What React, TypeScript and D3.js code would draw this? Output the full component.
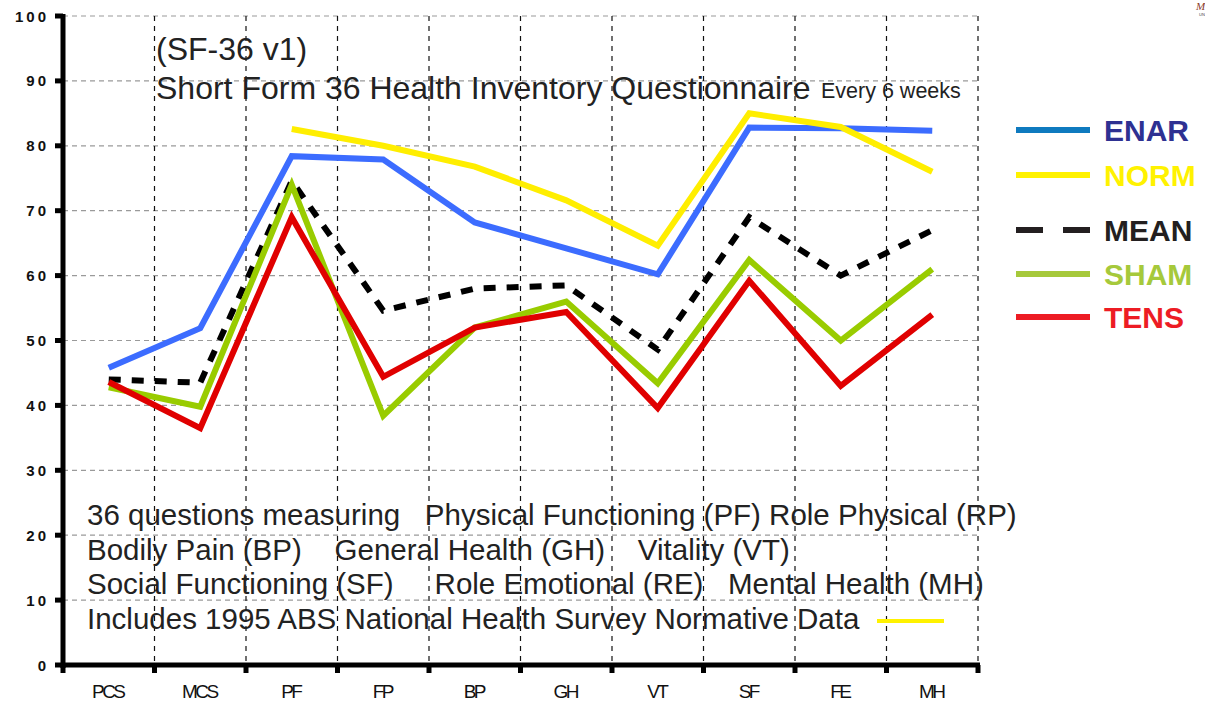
import React, { useEffect, useRef } from "react";
import * as d3 from "d3";

// categories along the x axis (labels as printed in the chart)
const categories = ["PCS", "MCS", "PF", "FP", "BP", "GH", "VT", "SF", "FE", "MH"];
const yTicks = [0, 10, 20, 30, 40, 50, 60, 70, 80, 90, 100];

// series values (null = no point)
const enar = [45.8, 51.9, 78.4, 77.9, 68.2, 64.2, 60.2, 82.8, 82.7, 82.3];
const norm = [null, null, 82.6, 80.0, 76.8, 71.6, 64.6, 85.0, 82.9, 76.0];
const mean = [44.0, 43.5, 74.6, 54.6, 58.0, 58.5, 48.6, 69.0, 60.0, 67.0];
const sham = [42.8, 39.8, 74.0, 38.4, 52.0, 56.0, 43.4, 62.4, 50.0, 61.0];
const tens = [43.6, 36.5, 69.0, 44.4, 52.0, 54.4, 39.6, 59.2, 43.0, 54.0];

const series = [
  { name: "ENAR", values: enar, color: "#3c6cff", dash: null },
  { name: "NORM", values: norm, color: "#ffee00", dash: null },
  { name: "MEAN", values: mean, color: "#000000", dash: "12,11" },
  { name: "SHAM", values: sham, color: "#99cc00", dash: null },
  { name: "TENS", values: tens, color: "#e00000", dash: null },
];

const legend = [
  { name: "ENAR", line: "#0f7abf", text: "#2e3192", dash: null },
  { name: "NORM", line: "#fff200", text: "#fff200", dash: null },
  { name: "MEAN", line: "#231f20", text: "#231f20", dash: "27,20" },
  { name: "SHAM", line: "#a6c93b", text: "#a6c93b", dash: null },
  { name: "TENS", line: "#ed1c24", text: "#ed1c24", dash: null },
];

const notes = [
  "36 questions measuring   Physical Functioning (PF) Role Physical (RP)",
  "Bodily Pain (BP)    General Health (GH)    Vitality (VT)",
  "Social Functioning (SF)     Role Emotional (RE)   Mental Health (MH)",
  "Includes 1995 ABS National Health Survey Normative Data",
];

const W = 1205, H = 701;
const left = 63, right = 978, top = 16, bottom = 665;
const FONT = "'Liberation Sans', Arial, sans-serif";

export default function App() {
  const ref = useRef<SVGSVGElement>(null);

  useEffect(() => {
    const svg = d3.select(ref.current);
    svg.selectAll("*").remove();

    const x = d3.scaleBand().domain(categories).range([left, right]).padding(0);
    const y = d3.scaleLinear().domain([0, 100]).range([bottom, top]);
    const cx = (c: string) => (x(c) as number) + x.bandwidth() / 2;

    // horizontal grid
    svg.append("g").selectAll("line").data(yTicks.filter(t => t > 0)).enter().append("line")
      .attr("x1", left).attr("x2", right)
      .attr("y1", d => y(d)).attr("y2", d => y(d))
      .attr("stroke", "#9a9a9a").attr("stroke-width", 1.2).attr("stroke-dasharray", "5,4");

    // vertical grid at band boundaries
    svg.append("g").selectAll("line").data(categories).enter().append("line")
      .attr("x1", d => (x(d) as number) + x.bandwidth()).attr("x2", d => (x(d) as number) + x.bandwidth())
      .attr("y1", top).attr("y2", bottom)
      .attr("stroke", "#111").attr("stroke-width", 1.2).attr("stroke-dasharray", "5,5");

    // titles
    const t = svg.append("g").attr("font-family", FONT).attr("fill", "#222");
    t.append("text").attr("x", 156).attr("y", 60).attr("font-size", 32).text("(SF-36 v1)");
    t.append("text").attr("x", 156).attr("y", 99).attr("font-size", 32)
      .text("Short Form 36 Health Inventory Questionnaire");
    t.append("text").attr("x", 821).attr("y", 98).attr("font-size", 21.5).text("Every 6 weeks");

    notes.forEach((n, i) => {
      t.append("text").attr("x", 87).attr("y", 525 + i * 34.6).attr("font-size", 29.5)
        .attr("xml:space", "preserve").style("white-space", "pre").text(n);
    });
    svg.append("line").attr("x1", 877).attr("x2", 944).attr("y1", 621).attr("y2", 621)
      .attr("stroke", "#fff200").attr("stroke-width", 4);

    // data lines
    series.forEach(s => {
      const pts = categories.map((c, i) => ({ c, v: s.values[i] }));
      const line = d3.line<{ c: string; v: number | null }>()
        .defined(d => d.v !== null)
        .x(d => cx(d.c))
        .y(d => y(d.v as number));
      svg.append("path").datum(pts).attr("d", line)
        .attr("fill", "none").attr("stroke", s.color).attr("stroke-width", 6)
        .attr("stroke-linejoin", "miter")
        .attr("stroke-dasharray", s.dash);
    });

    // y axis
    svg.append("line").attr("x1", left).attr("x2", left).attr("y1", top - 2).attr("y2", bottom + 3)
      .attr("stroke", "#000").attr("stroke-width", 5);
    const yg = svg.append("g");
    yg.selectAll("line").data(yTicks).enter().append("line")
      .attr("x1", left - 8).attr("x2", left).attr("y1", d => y(d)).attr("y2", d => y(d))
      .attr("stroke", "#000").attr("stroke-width", 5);
    yg.selectAll("text").data(yTicks).enter().append("text")
      .attr("x", left - 14).attr("y", d => y(d) + 5.5)
      .attr("text-anchor", "end").attr("font-family", FONT).attr("font-weight", "bold")
      .attr("font-size", 15).attr("letter-spacing", 3).attr("fill", "#111")
      .text(d => String(d));

    // x axis
    svg.append("line").attr("x1", left - 2).attr("x2", right + 2).attr("y1", bottom).attr("y2", bottom)
      .attr("stroke", "#000").attr("stroke-width", 5);
    const xg = svg.append("g");
    xg.selectAll("line").data([left, ...categories.map(c => (x(c) as number) + x.bandwidth())]).enter().append("line")
      .attr("x1", d => d).attr("x2", d => d).attr("y1", bottom).attr("y2", bottom + 8)
      .attr("stroke", "#000").attr("stroke-width", 5);
    xg.selectAll("text").data(categories).enter().append("text")
      .attr("x", d => cx(d) - 1).attr("y", 698).attr("text-anchor", "middle")
      .attr("font-family", FONT)
      .attr("font-size", 19).attr("letter-spacing", -2.6).attr("fill", "#111")
      .text(d => d);

    // legend
    const lg = svg.append("g");
    legend.forEach((l, i) => {
      const ly = [130, 175, 230, 274, 317][i];
      lg.append("line").attr("x1", 1016).attr("x2", 1090).attr("y1", ly).attr("y2", ly)
        .attr("stroke", l.line).attr("stroke-width", 6).attr("stroke-dasharray", l.dash);
      lg.append("text").attr("x", 1104).attr("y", ly + 11).attr("font-family", FONT)
        .attr("font-weight", "bold").attr("font-size", 30).attr("fill", l.text).text(l.name);
    });

    // logo fragment in the corner
    svg.append("text").attr("x", 1196).attr("y", 10).attr("font-family", "serif").attr("font-style", "italic")
      .attr("font-size", 11).attr("fill", "#8b3a2a").text("M");
    svg.append("text").attr("x", 1199).attr("y", 16).attr("font-family", FONT)
      .attr("font-size", 4).attr("fill", "#444").text("UN");
  }, []);

  return (
    <svg ref={ref} width={W} height={H}
      style={{ position: "absolute", left: 0, top: 0, background: "#fff" }} />
  );
}
